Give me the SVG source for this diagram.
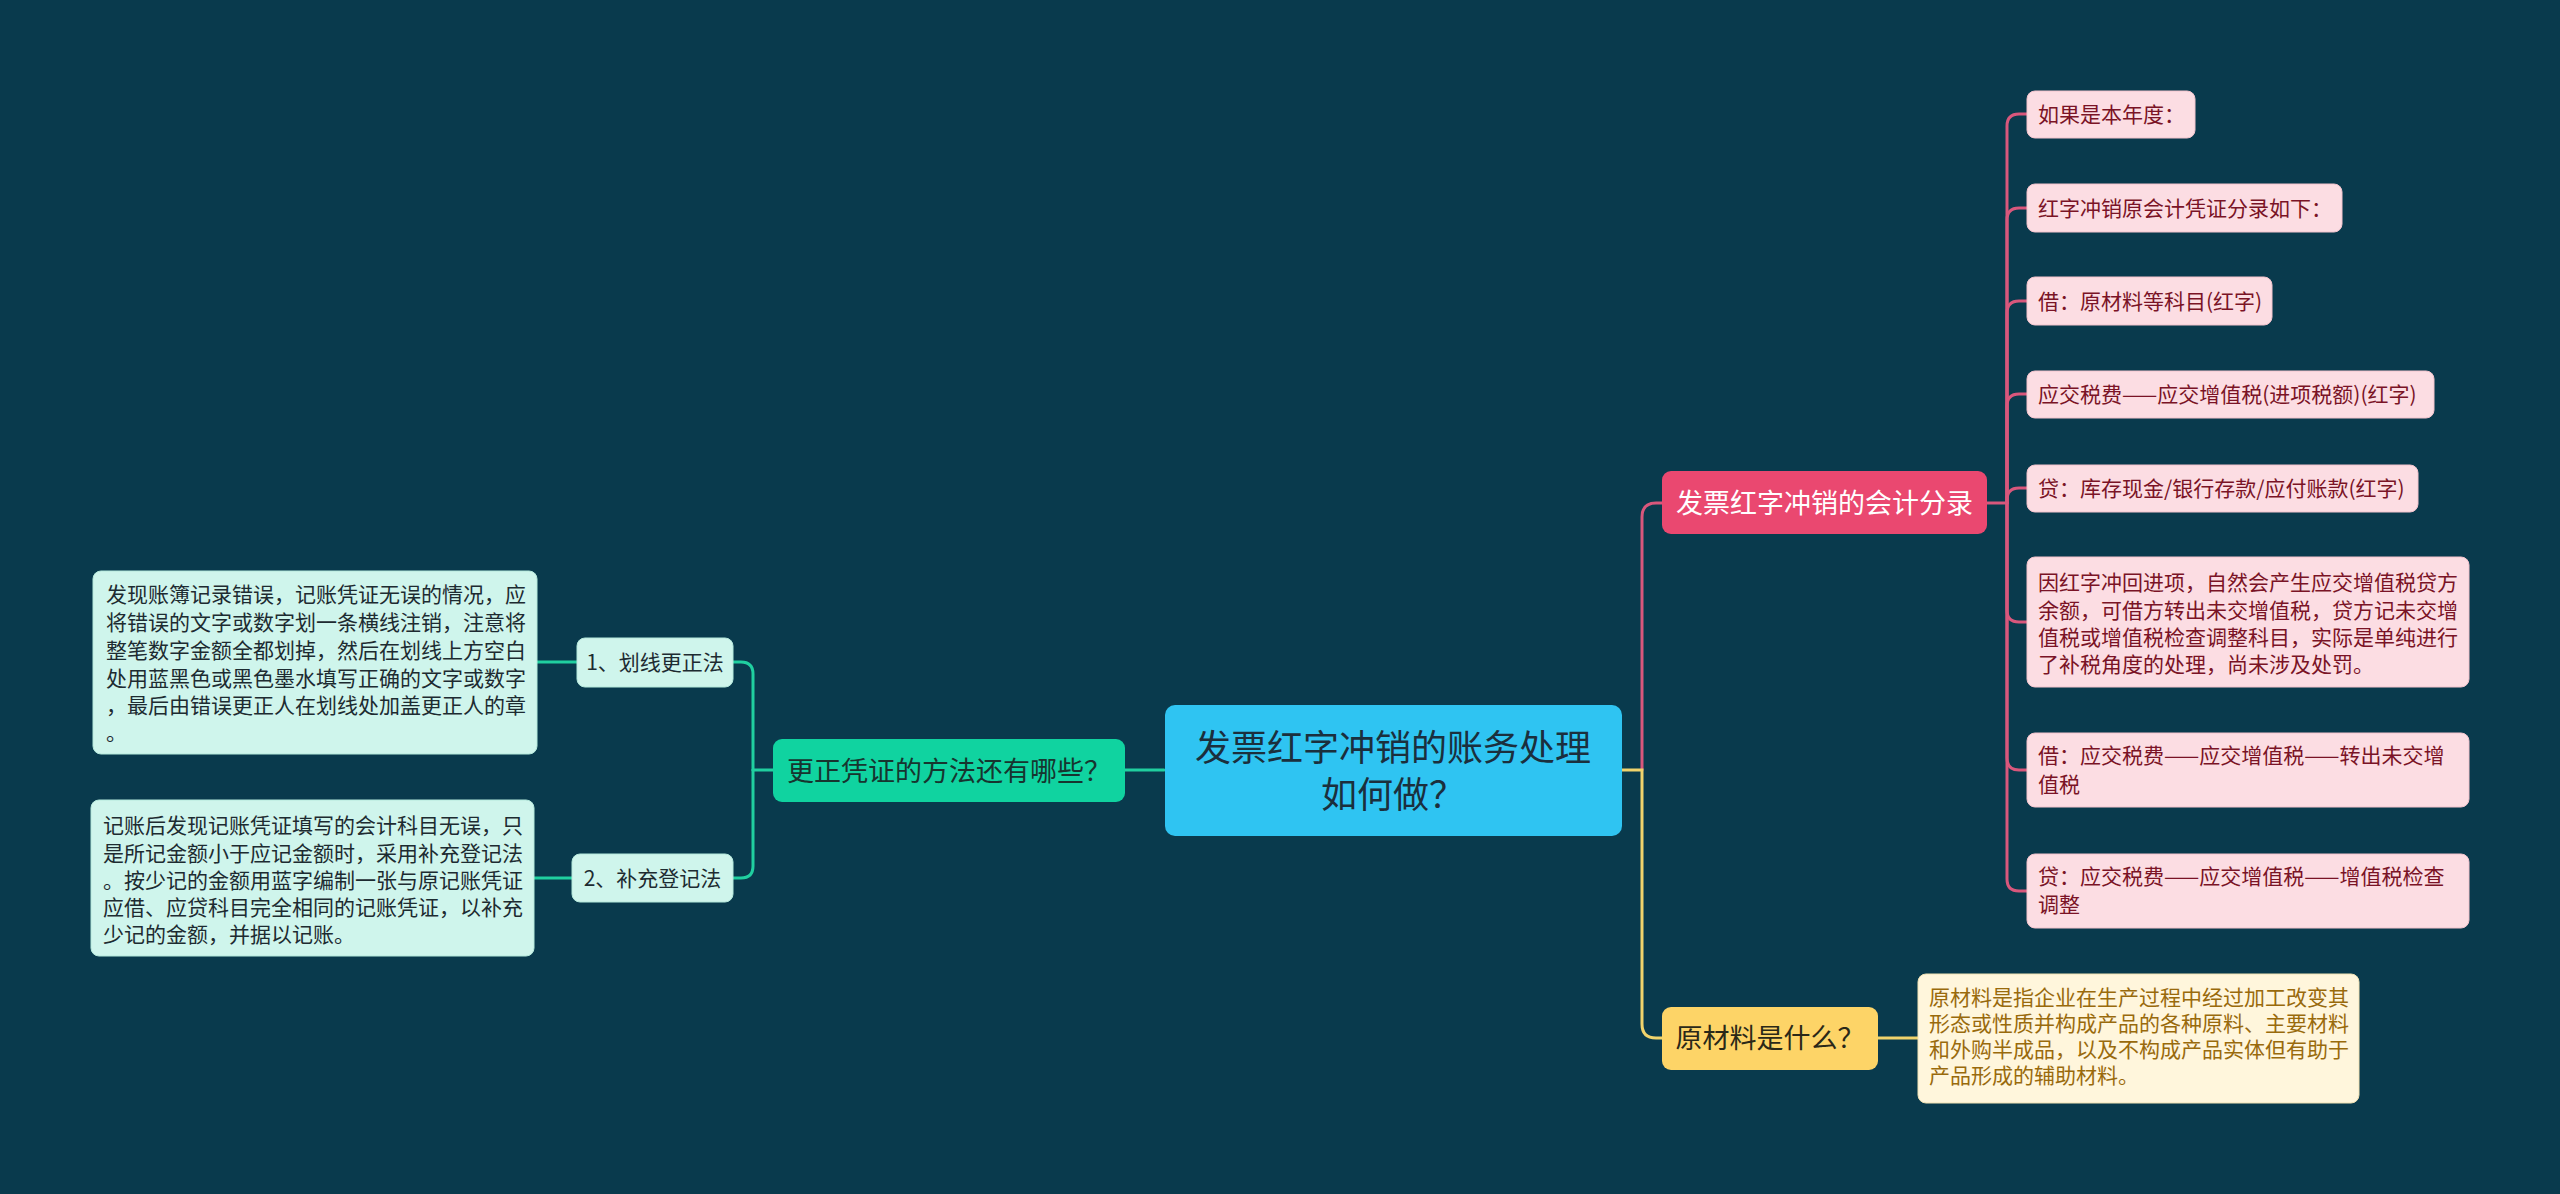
<svg xmlns="http://www.w3.org/2000/svg" width="2560" height="1194" viewBox="0 0 2560 1194">
<style>
text{font-family:"Noto Sans CJK SC","Noto Sans",sans-serif;}
.c{stroke-width:3;fill:none;stroke-linecap:round}
.cp{stroke:#d8577c}
.cy{stroke:#f0d36c}
.cg{stroke:#20cfa0}
.pc rect{fill:#fcdde3;stroke:#f3c3cd;stroke-width:1}
.pc text{fill:#7a1326;font-size:21px}
.gc rect{fill:#cff5ec;stroke:#b5e9dc;stroke-width:1}
.gc text{fill:#1d2b31;font-size:21px}
.yc rect{fill:#fff6dc;stroke:#f1e2b4;stroke-width:1}
.yc text{fill:#996a0c;font-size:21px}
</style>
<rect x="0" y="0" width="2560" height="1194" fill="#093a4d"/>
<g id="connectors">
<path class="c cp" d="M1642 770 L1642 517 Q1642 503 1656 503 L1662 503"/>
<path class="c cy" d="M1621 770 L1642 770 L1642 1024 Q1642 1038 1656 1038 L1662 1038"/>
<path class="c cy" d="M1878 1038 L1918 1038"/>
<path class="c cp" d="M1987 503 L2007 503"/>
<path class="c cp" d="M2007 503 L2007 126 Q2007 114 2019 114 L2027 114"/>
<path class="c cp" d="M2007 503 L2007 220 Q2007 208 2019 208 L2027 208"/>
<path class="c cp" d="M2007 503 L2007 313 Q2007 301 2019 301 L2027 301"/>
<path class="c cp" d="M2007 503 L2007 406 Q2007 394 2019 394 L2027 394"/>
<path class="c cp" d="M2007 503 L2007 500 Q2007 488 2019 488 L2027 488"/>
<path class="c cp" d="M2007 503 L2007 610 Q2007 622 2019 622 L2027 622"/>
<path class="c cp" d="M2007 503 L2007 758 Q2007 770 2019 770 L2027 770"/>
<path class="c cp" d="M2007 503 L2007 879 Q2007 891 2019 891 L2027 891"/>
<path class="c cg" d="M1164 770 L1125 770"/>
<path class="c cg" d="M773 770 L753 770"/>
<path class="c cg" d="M753 770 L753 674 Q753 662 741 662 L733 662"/>
<path class="c cg" d="M753 770 L753 866 Q753 878 741 878 L733 878"/>
<path class="c cg" d="M577 662 L537 662"/>
<path class="c cg" d="M572 878 L534 878"/>
</g>
<g id="root">
<rect x="1165" y="705" width="457" height="131" rx="10" fill="#2fc4f2"/>
<text x="1393" y="761" font-size="36" fill="#1b2f3d" text-anchor="middle">发票红字冲销的账务处理</text>
<text x="1393" y="808" font-size="36" fill="#1b2f3d" text-anchor="middle">如何做？</text>
</g>
<g id="n-pink">
<rect x="1662" y="471" width="325" height="63" rx="9" fill="#ea4870"/>
<text x="1824.5" y="513" font-size="27" fill="#ffffff" text-anchor="middle">发票红字冲销的会计分录</text>
</g>
<g id="n-yellow">
<rect x="1662" y="1007" width="216" height="63" rx="9" fill="#fdd467"/>
<text x="1770" y="1048" font-size="27" fill="#2a2818" text-anchor="middle">原材料是什么？</text>
</g>
<g id="n-green">
<rect x="773" y="739" width="352" height="63" rx="9" fill="#10d3a0"/>
<text x="949" y="781" font-size="27" fill="#17352f" text-anchor="middle">更正凭证的方法还有哪些？</text>
</g>
<g id="p1" class="pc"><rect x="2027" y="91" width="168" height="47" rx="8"/><text x="2038" y="122">如果是本年度：</text></g>
<g id="p2" class="pc"><rect x="2027" y="184" width="315" height="48" rx="8"/><text x="2038" y="216">红字冲销原会计凭证分录如下：</text></g>
<g id="p3" class="pc"><rect x="2027" y="277" width="245" height="48" rx="8"/><text x="2038" y="309">借：原材料等科目(红字)</text></g>
<g id="p4" class="pc"><rect x="2027" y="371" width="407" height="47" rx="8"/><text x="2038" y="402">应交税费——应交增值税(进项税额)(红字)</text></g>
<g id="p5" class="pc"><rect x="2027" y="465" width="391" height="47" rx="8"/><text x="2038" y="496">贷：库存现金/银行存款/应付账款(红字)</text></g>
<g id="p6" class="pc"><rect x="2027" y="557" width="442" height="130" rx="8"/>
<text x="2038" y="590">因红字冲回进项，自然会产生应交增值税贷方</text>
<text x="2038" y="618">余额，可借方转出未交增值税，贷方记未交增</text>
<text x="2038" y="645">值税或增值税检查调整科目，实际是单纯进行</text>
<text x="2038" y="672">了补税角度的处理，尚未涉及处罚。</text></g>
<g id="p7" class="pc"><rect x="2027" y="733" width="442" height="74" rx="8"/>
<text x="2038" y="763">借：应交税费——应交增值税——转出未交增</text>
<text x="2038" y="792">值税</text></g>
<g id="p8" class="pc"><rect x="2027" y="854" width="442" height="74" rx="8"/>
<text x="2038" y="884">贷：应交税费——应交增值税——增值税检查</text>
<text x="2038" y="912">调整</text></g>
<g id="y1" class="yc"><rect x="1918" y="974" width="441" height="129" rx="8"/>
<text x="1929" y="1005">原材料是指企业在生产过程中经过加工改变其</text>
<text x="1929" y="1031">形态或性质并构成产品的各种原料、主要材料</text>
<text x="1929" y="1057">和外购半成品，以及不构成产品实体但有助于</text>
<text x="1929" y="1083">产品形成的辅助材料。</text></g>
<g id="g1" class="gc"><rect x="577" y="638" width="156" height="49" rx="8"/><text x="655" y="670" text-anchor="middle">1、划线更正法</text></g>
<g id="g2" class="gc"><rect x="572" y="854" width="161" height="48" rx="8"/><text x="652.5" y="886" text-anchor="middle">2、补充登记法</text></g>
<g id="g1t" class="gc"><rect x="93" y="571" width="444" height="183" rx="8"/>
<text x="106" y="602">发现账簿记录错误，记账凭证无误的情况，应</text>
<text x="106" y="630">将错误的文字或数字划一条横线注销，注意将</text>
<text x="106" y="658">整笔数字金额全都划掉，然后在划线上方空白</text>
<text x="106" y="686">处用蓝黑色或黑色墨水填写正确的文字或数字</text>
<text x="106" y="713">，最后由错误更正人在划线处加盖更正人的章</text>
<text x="106" y="740">。</text></g>
<g id="g2t" class="gc"><rect x="91" y="800" width="443" height="156" rx="8"/>
<text x="103" y="833">记账后发现记账凭证填写的会计科目无误，只</text>
<text x="103" y="861">是所记金额小于应记金额时，采用补充登记法</text>
<text x="103" y="888">。按少记的金额用蓝字编制一张与原记账凭证</text>
<text x="103" y="915">应借、应贷科目完全相同的记账凭证，以补充</text>
<text x="103" y="942">少记的金额，并据以记账。</text></g>
</svg>
